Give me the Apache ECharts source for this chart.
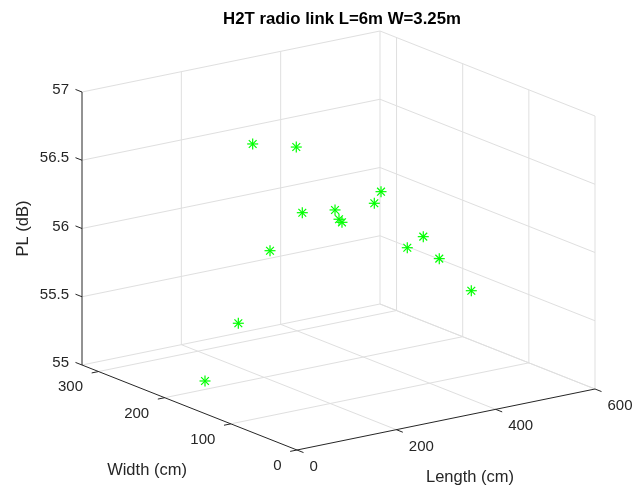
<!DOCTYPE html>
<html>
<head>
<meta charset="utf-8">
<script src="https://cdn.jsdelivr.net/npm/echarts@6/dist/echarts.min.js"></script>
<style>
html,body{margin:0;padding:0;background:#ffffff;}
#chart{width:638px;height:492px;}
</style>
</head>
<body>
<div id="chart"></div>
<script>
// ---------------- data ----------------
const titleText = 'H2T radio link L=6m W=3.25m';
const lengthLabel = 'Length (cm)';
const widthLabel = 'Width (cm)';
const plLabel = 'PL (dB)';

const lengthRange = [0, 600];
const widthRange = [0, 325];
const plRange = [55, 57];

const lengthTicks = [0, 200, 400, 600];
const widthTicks = [0, 100, 200, 300];
const plTicks = [55, 55.5, 56, 56.5, 57];
const lengthTickLabels = ['0', '200', '400', '600'];
const widthTickLabels = ['0', '100', '200', '300'];
const plTickLabels = ['55', '55.5', '56', '56.5', '57'];

// measurement points (Length cm, Width cm, PL dB)
const lengthCm = [127.2, 215.0, 385.6, 372.1, 293.0, 227.1, 301.0, 307.0, 470.7, 438.5, 502.9, 162.1, 567.4, 98.3, 31.2];
const widthCm  = [162.5, 162.5, 162.5, 162.5, 162.5, 162.5, 162.5, 162.5, 162.5, 162.5, 162.5, 162.5, 162.5, 162.5, 162.5];
const plDb     = [56.836, 56.748, 56.294, 56.219, 56.229, 56.258, 56.155, 56.128, 55.901, 55.844, 55.716, 56.028, 55.433, 55.544, 55.171];

// ---------------- view (camera) ----------------
// view-plane position of the box origin and of the three unit box edges
const VIEW = { origin: [297, 450], eL: [298, -61], eW: [-215, -85], eZ: [0, -273] };

function norm(v, r) { return (v - r[0]) / (r[1] - r[0]); }
function project(L, W, Z) {
  const a = norm(L, lengthRange), b = norm(W, widthRange), c = norm(Z, plRange);
  return [
    VIEW.origin[0] + a * VIEW.eL[0] + b * VIEW.eW[0] + c * VIEW.eZ[0],
    VIEW.origin[1] + a * VIEW.eL[1] + b * VIEW.eW[1] + c * VIEW.eZ[1]
  ];
}
function unit(v) { const n = Math.hypot(v[0], v[1]); return [v[0] / n, v[1] / n]; }

const FONT = '"Liberation Sans", Arial, Helvetica, sans-serif';
const AXIS_COLOR = '#262626';
const GRID_COLOR = '#dfdfdf';
const L0 = lengthRange[0], L1 = lengthRange[1];
const W0 = widthRange[0], W1 = widthRange[1];
const Z0 = plRange[0], Z1 = plRange[1];

// ---------------- grid segments ----------------
const gridSegs = [];
widthTicks.forEach(w => { if (w !== W0) gridSegs.push([L0, w, Z0, L1, w, Z0]); });
lengthTicks.forEach(l => { if (l !== L0) gridSegs.push([l, W0, Z0, l, W1, Z0]); });
plTicks.forEach(z => gridSegs.push([L0, W1, z, L1, W1, z]));
lengthTicks.forEach(l => { if (l !== L0) gridSegs.push([l, W1, Z0, l, W1, Z1]); });
plTicks.forEach(z => gridSegs.push([L1, W0, z, L1, W1, z]));
widthTicks.forEach(w => gridSegs.push([L1, w, Z0, L1, w, Z1]));

const axisSegs = [
  [L0, W1, Z0, L0, W1, Z1],
  [L0, W0, Z0, L0, W1, Z0],
  [L0, W0, Z0, L1, W0, Z0]
];

// tick marks: [L, W, Z, axis, index]  axis 0 = PL, 1 = width, 2 = length
const tickData = [];
plTicks.forEach((z, i) => tickData.push([L0, W1, z, 0, i]));
widthTicks.forEach((w, i) => tickData.push([L0, w, Z0, 1, i]));
lengthTicks.forEach((l, i) => tickData.push([l, W0, Z0, 2, i]));

const pointData = lengthCm.map((l, i) => [l, widthCm[i], plDb[i]]);

const titleData = [
  [L0, W1, (Z0 + Z1) / 2, 0],
  [L0, (W0 + W1) / 2, Z0, 1],
  [(L0 + L1) / 2, W0, Z0, 2]
];

function segRender(color) {
  return function (params, api) {
    const p1 = api.coord(project(api.value(0), api.value(1), api.value(2)));
    const p2 = api.coord(project(api.value(3), api.value(4), api.value(5)));
    return { type: 'line', shape: { x1: p1[0], y1: p1[1], x2: p2[0], y2: p2[1] },
      style: { stroke: color, lineWidth: 1 }, silent: true };
  };
}

const dirW = unit(VIEW.eW), dirL = unit(VIEW.eL);
const TICK_LEN = 7;

const option = {
  animation: false,
  backgroundColor: '#ffffff',
  title: {
    text: titleText, left: 337, top: 6, textAlign: 'center',
    textStyle: { fontFamily: FONT, fontSize: 16.8, fontWeight: 'bold', color: '#000000' }
  },
  grid: { left: 0, right: 0, top: 0, bottom: 0 },
  xAxis: { type: 'value', min: 0, max: 638, show: false },
  yAxis: { type: 'value', min: 0, max: 492, inverse: true, show: false },
  series: [
    { type: 'custom', name: 'grid', clip: false, silent: true, data: gridSegs, renderItem: segRender(GRID_COLOR), z: 1 },
    { type: 'custom', name: 'axes', clip: false, silent: true, data: axisSegs, renderItem: segRender(AXIS_COLOR), z: 2 },
    {
      type: 'custom', name: 'ticks', clip: false, silent: true, data: tickData, z: 2,
      renderItem: function (params, api) {
        const p = api.coord(project(api.value(0), api.value(1), api.value(2)));
        const ax = api.value(3), idx = api.value(4);
        let d, lab, dx, dy, align;
        if (ax === 0) { d = dirW; lab = plTickLabels[idx]; dx = -13; dy = -2; align = 'right'; }
        else if (ax === 1) { d = [-dirL[0], -dirL[1]]; lab = widthTickLabels[idx]; dx = -15.5; dy = 15.7; align = 'right'; }
        else { d = [-dirW[0], -dirW[1]]; lab = lengthTickLabels[idx]; dx = 12.5; dy = 17; align = 'left'; }
        return { type: 'group', children: [
          { type: 'line', shape: { x1: p[0], y1: p[1], x2: p[0] + d[0] * TICK_LEN, y2: p[1] + d[1] * TICK_LEN },
            style: { stroke: AXIS_COLOR, lineWidth: 1 } },
          { type: 'text', x: p[0] + dx, y: p[1] + dy,
            style: { text: lab, align: align, verticalAlign: 'middle', fill: AXIS_COLOR,
              font: '15px ' + FONT } }
        ] };
      }
    },
    {
      type: 'custom', name: 'axisTitles', clip: false, silent: true, data: titleData, z: 2,
      renderItem: function (params, api) {
        const p = api.coord(project(api.value(0), api.value(1), api.value(2)));
        const k = api.value(3);
        if (k === 0) {
          return { type: 'text', x: p[0] - 59, y: p[1], rotation: Math.PI / 2,
            style: { text: plLabel, align: 'center', verticalAlign: 'middle', fill: AXIS_COLOR, font: '16.5px ' + FONT } };
        } else if (k === 1) {
          return { type: 'text', x: p[0] - 42.5, y: p[1] + 62.5,
            style: { text: widthLabel, align: 'center', verticalAlign: 'middle', fill: AXIS_COLOR, font: '16.5px ' + FONT } };
        }
        return { type: 'text', x: p[0] + 24, y: p[1] + 57.5,
          style: { text: lengthLabel, align: 'center', verticalAlign: 'middle', fill: AXIS_COLOR, font: '16.5px ' + FONT } };
      }
    },
    {
      type: 'custom', name: 'PL', clip: false, data: pointData, z: 3,
      renderItem: function (params, api) {
        const p = api.coord(project(api.value(0), api.value(1), api.value(2)));
        const r = 5.5, q = r * 0.7071;
        const st = { stroke: '#00ff00', lineWidth: 1.2 };
        return { type: 'group', children: [
          { type: 'line', shape: { x1: p[0] - r, y1: p[1], x2: p[0] + r, y2: p[1] }, style: st },
          { type: 'line', shape: { x1: p[0], y1: p[1] - r, x2: p[0], y2: p[1] + r }, style: st },
          { type: 'line', shape: { x1: p[0] - q, y1: p[1] - q, x2: p[0] + q, y2: p[1] + q }, style: st },
          { type: 'line', shape: { x1: p[0] - q, y1: p[1] + q, x2: p[0] + q, y2: p[1] - q }, style: st }
        ] };
      }
    }
  ]
};

const chart = echarts.init(document.getElementById('chart'), null, { renderer: 'canvas' });
chart.setOption(option);
</script>
</body>
</html>
